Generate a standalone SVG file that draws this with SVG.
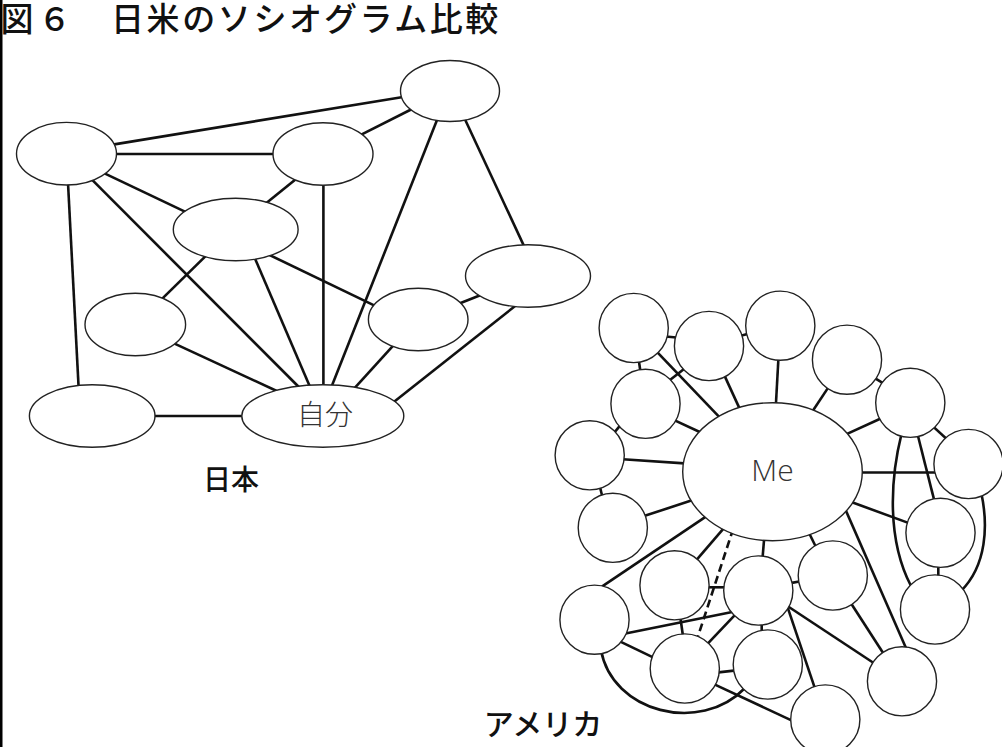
<svg xmlns="http://www.w3.org/2000/svg" width="1002" height="747" viewBox="0 0 1002 747">
<style>
.e{stroke:#111;stroke-width:2.6;fill:none;stroke-linecap:butt}
.d{stroke-dasharray:8 4.5}
.n{fill:#fff;stroke:#222;stroke-width:1.4}
.t{font-family:"Noto Sans CJK JP","Noto Sans",sans-serif;fill:#111;font-weight:500}
.lb{font-family:"Noto Sans CJK JP","Noto Sans",sans-serif;fill:#333;font-weight:300}
</style>
<rect width="1002" height="747" fill="#fff"/>
<rect x="0" y="0" width="2.5" height="747" fill="#000"/>
<g id="title">
<text class="t" x="0.5" y="31" font-size="33">図</text>
<text class="t" x="38" y="31" font-size="33">６</text>
<text class="t" x="111" y="31" font-size="33" letter-spacing="2.6">日米のソシオグラム比較</text>
</g>
<g id="connectors">
<!-- Japan -->
<line class="e" x1="112.8" y1="144.6" x2="404.6" y2="96.7"/>
<line class="e" x1="112" y1="154" x2="277" y2="154"/>
<line class="e" x1="358.8" y1="135.8" x2="415" y2="107.5"/>
<line class="e" x1="102.4" y1="172.3" x2="186.5" y2="212.4"/>
<line class="e" x1="90.2" y1="177.9" x2="301.3" y2="389.5"/>
<line class="e" x1="67.9" y1="181" x2="78.7" y2="389"/>
<line class="e" x1="297" y1="178.2" x2="263.6" y2="205.2"/>
<line class="e" x1="323.4" y1="181" x2="323.4" y2="389"/>
<line class="e" x1="438.5" y1="116.3" x2="330.7" y2="388.7"/>
<line class="e" x1="463.3" y1="115.7" x2="525.2" y2="248.6"/>
<line class="e" x1="207.9" y1="253.9" x2="159.7" y2="301.1"/>
<line class="e" x1="254" y1="256.3" x2="310.8" y2="388.7"/>
<line class="e" x1="268.1" y1="254.3" x2="376.7" y2="306.7"/>
<line class="e" x1="172.4" y1="342.6" x2="278.4" y2="391.7"/>
<line class="e" x1="457.5" y1="304.2" x2="482.1" y2="294.5"/>
<line class="e" x1="395" y1="343.7" x2="353.2" y2="389.7"/>
<line class="e" x1="516.7" y1="304.8" x2="392.2" y2="403.2"/>
<line class="e" x1="151" y1="416" x2="246" y2="416"/>
<!-- America -->
<line class="e" x1="663" y1="336.2" x2="679" y2="337.8"/>
<line class="e" x1="740" y1="336" x2="751" y2="333"/>
<line class="e" x1="638.3" y1="357" x2="640.8" y2="374"/>
<line class="e" x1="654.8" y1="349.7" x2="721.8" y2="419.6"/>
<line class="e" x1="686.6" y1="366.9" x2="666.1" y2="383.1"/>
<line class="e" x1="722.9" y1="372.1" x2="741.1" y2="411.9"/>
<line class="e" x1="778.6" y1="355.3" x2="775.7" y2="408.3"/>
<line class="e" x1="830.5" y1="384.1" x2="810.5" y2="414.2"/>
<line class="e" x1="872.4" y1="376.7" x2="886.6" y2="385.3"/>
<line class="e" x1="883.5" y1="417.2" x2="843.8" y2="435.4"/>
<line class="e" x1="671.5" y1="418.9" x2="703.5" y2="433.8"/>
<line class="e" x1="621.5" y1="423.8" x2="611.8" y2="435.6"/>
<line class="e" x1="619" y1="459" x2="688.3" y2="463.6"/>
<line class="e" x1="599.5" y1="485" x2="602.9" y2="499"/>
<line class="e" x1="931.3" y1="424.9" x2="949.7" y2="441.7"/>
<line class="e" x1="856.7" y1="472.5" x2="941" y2="472.5"/>
<line class="e" x1="917.1" y1="432.5" x2="935.2" y2="504.1"/>
<path class="e" d="M901.5,434 C890,480 887,540 911,586"/>
<path class="e" d="M981.5,494 C988,525 987,565 961,591"/>
<line class="e" x1="848.6" y1="501" x2="912.4" y2="524.4"/>
<line class="e" x1="938.3" y1="562" x2="938.3" y2="580"/>
<line class="e" x1="844.5" y1="507.4" x2="907.5" y2="651.6"/>
<line class="e" x1="807.8" y1="530.5" x2="817.2" y2="549.5"/>
<line class="e" x1="764.4" y1="535.7" x2="762.3" y2="561"/>
<line class="e" x1="725.6" y1="526.2" x2="694" y2="562.8"/>
<line class="e" x1="640.2" y1="517.3" x2="695.8" y2="499.1"/>
<line class="e" x1="708.5" y1="514.9" x2="598.5" y2="588.8"/>
<line class="e d" x1="733.3" y1="528.5" x2="697.4" y2="638.1"/>
<line class="e" x1="704" y1="587.3" x2="729" y2="587.3"/>
<line class="e" x1="787.8" y1="583.6" x2="803.2" y2="580.8"/>
<line class="e" x1="680" y1="615" x2="683.4" y2="639"/>
<line class="e" x1="621.8" y1="634.3" x2="735.9" y2="611.3"/>
<line class="e" x1="736.7" y1="613.1" x2="705.6" y2="645.9"/>
<line class="e" x1="761.7" y1="620" x2="761.7" y2="635"/>
<line class="e" x1="786.7" y1="604.6" x2="815.6" y2="690.4"/>
<line class="e" x1="785.1" y1="604.5" x2="877.5" y2="665.5"/>
<line class="e" x1="850" y1="601.8" x2="885.4" y2="656.5"/>
<line class="e" x1="617.2" y1="640.1" x2="656.2" y2="658.9"/>
<line class="e" x1="714" y1="672.9" x2="738.3" y2="670.1"/>
<path class="e" d="M601,650 C612,712 700,735 745,688"/>
<line class="e" x1="711.2" y1="682.9" x2="795.2" y2="722.1"/>
</g>
<g id="japan">
<g id="jA"><ellipse class="n" cx="450" cy="91" rx="49.5" ry="30.5"/></g>
<g id="jB"><ellipse class="n" cx="66.5" cy="153.7" rx="50" ry="31.3"/></g>
<g id="jC"><ellipse class="n" cx="323" cy="154" rx="50" ry="31.2"/></g>
<g id="jD"><ellipse class="n" cx="235.7" cy="229.5" rx="62.4" ry="31.2"/></g>
<g id="jE"><ellipse class="n" cx="528" cy="276" rx="62.5" ry="31.2"/></g>
<g id="jF"><ellipse class="n" cx="135.3" cy="324.5" rx="50.3" ry="31.2"/></g>
<g id="jG"><ellipse class="n" cx="418.2" cy="319.5" rx="49.8" ry="31.2"/></g>
<g id="jH"><ellipse class="n" cx="92.2" cy="416" rx="62.8" ry="31.2"/></g>
<g id="jSelf"><ellipse class="n" cx="322.8" cy="416" rx="81" ry="31.2"/>
<text class="lb" x="325" y="425" font-size="28" text-anchor="middle">自分</text></g>
<text class="t" x="231" y="490" font-size="28" text-anchor="middle">日本</text>
</g>
<g id="america">
<g id="a1"><circle class="n" cx="633.7" cy="328" r="34.6"/></g>
<g id="a2"><circle class="n" cx="709" cy="346" r="34.6"/></g>
<g id="a3"><circle class="n" cx="780.3" cy="325.7" r="34.6"/></g>
<g id="a4"><circle class="n" cx="847" cy="359.7" r="34.6"/></g>
<g id="a5"><circle class="n" cx="910.3" cy="402.8" r="34.6"/></g>
<g id="a6"><circle class="n" cx="645.5" cy="403.8" r="34.6"/></g>
<g id="a7"><circle class="n" cx="589.7" cy="455.3" r="34.6"/></g>
<g id="a8"><circle class="n" cx="968.5" cy="464" r="34.6"/></g>
<g id="a9"><circle class="n" cx="612.8" cy="527.8" r="34.6"/></g>
<g id="a10"><circle class="n" cx="940.5" cy="532.8" r="34.6"/></g>
<g id="a11"><circle class="n" cx="935" cy="609.5" r="34.6"/></g>
<g id="a12"><circle class="n" cx="674.5" cy="585.3" r="34.6"/></g>
<g id="a13"><circle class="n" cx="758.3" cy="590.5" r="34.6"/></g>
<g id="a14"><circle class="n" cx="832.8" cy="575.5" r="34.6"/></g>
<g id="a15"><circle class="n" cx="594.5" cy="619.7" r="34.6"/></g>
<g id="a16"><circle class="n" cx="684.8" cy="668.5" r="34.6"/></g>
<g id="a17"><circle class="n" cx="767.8" cy="664.5" r="34.6"/></g>
<g id="a18"><circle class="n" cx="902" cy="681.3" r="34.6"/></g>
<g id="a19"><circle class="n" cx="825.3" cy="719.5" r="34.6"/></g>
<g id="aMe"><ellipse class="n" cx="772.5" cy="471.7" rx="89.8" ry="69"/>
<text class="lb" x="772.5" y="481" font-size="30" text-anchor="middle" style="font-family:'Open Sans','Noto Sans',sans-serif">Me</text></g>
<text class="t" x="543" y="735" font-size="30" text-anchor="middle">アメリカ</text>
</g>
</svg>
